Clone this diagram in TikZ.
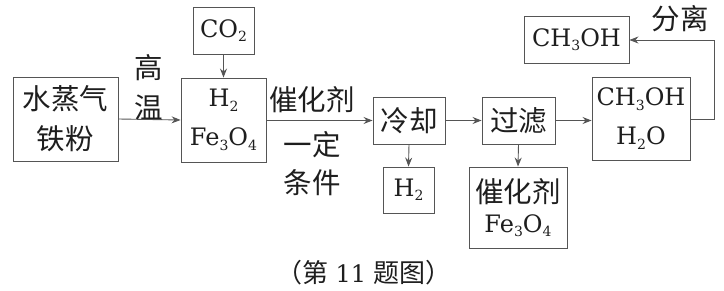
\documentclass[tikz,border=0pt]{standalone}
\usepackage{fontspec}
\setmainfont{DejaVu Serif}
\newfontfamily\cjk{Noto Sans CJK SC}
\usetikzlibrary{arrows.meta}
\definecolor{linec}{HTML}{555555}
\definecolor{textc}{HTML}{1e1e1e}
\newcommand\sbs[1]{\raisebox{-0.35ex}{\fontsize{14}{14}\selectfont #1}}
\tikzset{
  box/.style={draw=linec, line width=0.9pt, inner sep=0pt, align=center, text=textc},
  zh/.style={font=\cjk\fontsize{28.5}{40}\selectfont},
  fm/.style={font=\fontsize{24}{39}\selectfont},
  lbl/.style={text=textc, inner sep=0pt, align=center},
  flow/.style={draw=linec, line width=0.9pt, -{Stealth[length=9pt,width=7pt,inset=3pt]}}
}
\begin{document}
\begin{tikzpicture}[x=1pt,y=-1pt]
\useasboundingbox (0,0) rectangle (724,291);
\node[box,zh,minimum width=105pt,minimum height=84pt] (b1) at (65.5,119) {水蒸气\\铁粉};
\node[box,fm,minimum width=61pt,minimum height=47pt] (co2) at (223.5,30.5) {CO\sbs{2}};
\node[box,fm,minimum width=85pt,minimum height=84pt] (b2) at (223.5,120) {H\sbs{2}\\Fe\sbs{3}O\sbs{4}};
\node[box,zh,minimum width=72pt,minimum height=47pt] (cool) at (409,120.5) {冷却};
\node[box,fm,minimum width=51pt,minimum height=46pt] (h2) at (408.5,190) {H\sbs{2}};
\node[box,zh,minimum width=73pt,minimum height=47pt] (filt) at (518.5,120.5) {过滤};
\node[box,minimum width=98pt,minimum height=81pt] (cat) at (518,207.5) {{\cjk\fontsize{28.5}{30}\selectfont 催化剂}\\[9pt]{\fontsize{24}{30}\selectfont Fe\sbs{3}O\sbs{4}}};
\node[box,fm,minimum width=98pt,minimum height=83pt] (mix) at (641,118.5) {CH\sbs{3}OH\\H\sbs{2}O};
\node[box,fm,minimum width=105pt,minimum height=47pt] (meth) at (576.5,39.5) {CH\sbs{3}OH};
\coordinate (turn1) at (714,119);
\coordinate (turn2) at (714,40);
% labels
\node[lbl,zh] (gw) at (149,87) {高\\温};
\node[lbl,zh] (cat1) at (312,100) {催化剂};
\node[lbl,zh] (yd) at (312,145) {一定};
\node[lbl,zh] (tj) at (312,183) {条件};
\node[lbl,zh] (fl) at (680,19) {分离};
\node[lbl,font=\cjk\fontsize{26}{28}\selectfont] (cap) at (364,273) {（第{\fontsize{24}{28}\selectfont\rmfamily\ 11\ }题图）};
% arrows
\draw[flow] (b1.east) -- (b2.west);
\draw[flow] (co2.south) -- (b2.north);
\draw[flow] (b2.east |- cool.west) -- (cool.west);
\draw[flow] (cool.south) -- (h2.north);
\draw[flow] (cool.east) -- (filt.west);
\draw[flow] (filt.south) -- (cat.north);
\draw[flow] (filt.east) -- (filt.east -| mix.west);
\draw[flow] (mix.east |- turn1) -- (turn1) -- (turn2) -- (meth.east |- turn2);
\end{tikzpicture}
\end{document}
